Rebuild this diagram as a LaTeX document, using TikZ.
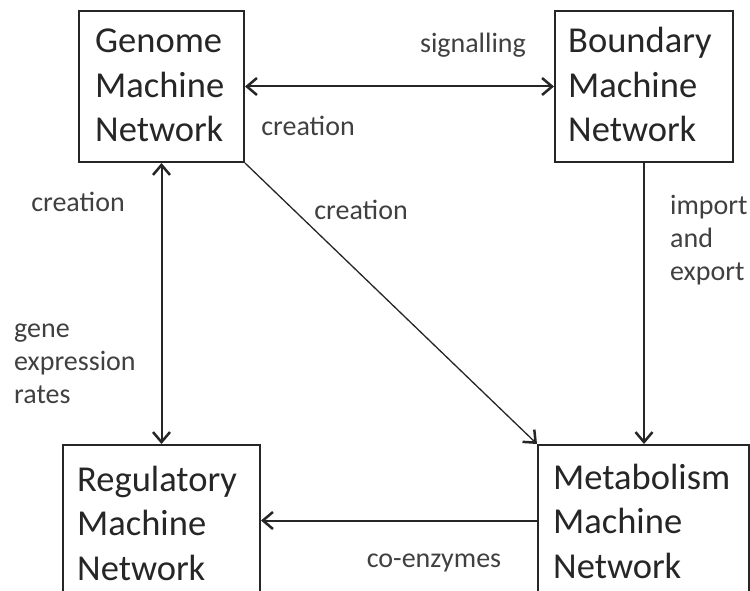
\documentclass[tikz,border=0pt]{standalone}
\usepackage{fontspec}
\setmainfont{Carlito}
\usetikzlibrary{arrows.meta}

\tikzset{
  netbox/.style={draw=black!85, line width=2pt, rectangle, inner sep=0pt, anchor=north west},
  % multi-line texts are placed by the baseline of their last line
  boxtext/.style={anchor=base west, align=left, inner sep=0pt, text=black!85,
    font=\fontsize{36.5}{44.5}\selectfont},
  lbl/.style={inner sep=0pt, text=black!75, font=\fontsize{28}{33}\selectfont},
  link/.style={draw=black!85, line width=2pt},
  thinlink/.style={draw=black!85, line width=1.3pt},
}

\begin{document}
\begin{tikzpicture}[x=1pt, y=-1pt, >={Straight Barb[length=10pt, width=17pt, line width=2.5pt]}]
\useasboundingbox (0,0) rectangle (750,591);
\clip (0,0) rectangle (750,591);

% the four machine networks
\node[netbox, minimum width=165pt, minimum height=151pt] (genome) at (78,10) {};
\node[netbox, minimum width=178pt, minimum height=151pt] (boundary) at (554,10) {};
\node[netbox, minimum width=197pt, minimum height=151pt] (regulatory) at (62,444) {};
\node[netbox, minimum width=211pt, minimum height=151pt] (metabolism) at (537,444) {};

\node[boxtext] (genomeTxt) at (95,142) {Genome\\Machine\\Network};
\node[boxtext] (boundaryTxt) at (568,142) {Boundary\\Machine\\Network};
\node[boxtext] (regulatoryTxt) at (77,580) {Regulatory\\Machine\\Network};
\node[boxtext] (metabolismTxt) at (553,578) {Metabolism\\Machine\\Network};

% connectors
\draw[link, <->] (genome.east) -- (boundary.west);
\draw[link, <->] (genome.south) -- (regulatory.north);
\draw[thinlink, ->] (genome.south east) -- (metabolism.north west);
\draw[link, ->] (boundary.south) -- (metabolism.north -| boundary.south);
\draw[link, ->] (metabolism.west) -- (regulatory.east);

% connector labels
\node[lbl] (lSignal) at (473,45) {signalling};
\node[lbl] (lCreateTop) at (308,126) {creation};
\node[lbl] (lCreateLeft) at (78,202) {creation};
\node[lbl] (lCreateDiag) at (361,210) {creation};
\node[lbl, anchor=base west, align=left] (lGene) at (14,403) {gene\\expression\\rates};
\node[lbl, anchor=base west, align=left] (lImport) at (670,280) {import\\and\\export};
\node[lbl] (lCoenz) at (434,563) {co-enzymes};
\end{tikzpicture}
\end{document}
